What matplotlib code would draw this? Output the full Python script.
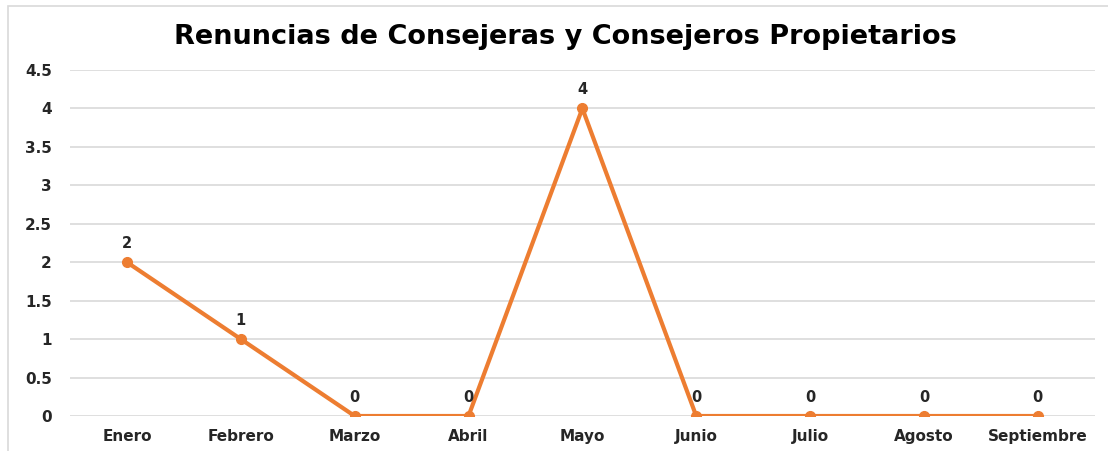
import matplotlib.pyplot as plt
from matplotlib.patches import Rectangle

meses = ['Enero', 'Febrero', 'Marzo', 'Abril', 'Mayo', 'Junio', 'Julio', 'Agosto', 'Septiembre']
renuncias = [2, 1, 0, 0, 4, 0, 0, 0, 0]
yticks = [0, 0.5, 1, 1.5, 2, 2.5, 3, 3.5, 4, 4.5]

plt.rcParams['font.family'] = ['DejaVu Sans']

fig = plt.figure(figsize=(11.08, 4.51), dpi=100)
ax = fig.add_axes([0.0632, 0.0776, 0.9248, 0.7672])

x = list(range(len(meses)))
ax.plot(x, renuncias, color='#ED7D31', linewidth=3, marker='o', markersize=7,
        solid_joinstyle='round', zorder=3)

for xi, v in zip(x, renuncias):
    ax.annotate(str(v), (xi, v), xytext=(0, 8), textcoords='offset points',
                ha='center', va='bottom', fontsize=10.5, fontweight='bold', color='#262626')

ax.set_xlim(-0.5, len(meses) - 0.5)
ax.set_ylim(0, 4.5)
ax.set_yticks(yticks)
ax.set_yticklabels([f'{t:g}' for t in yticks], fontsize=11, fontweight='bold', color='#262626')
ax.set_xticks(x)
ax.set_xticklabels(meses, fontsize=11, fontweight='bold', color='#262626')
ax.tick_params(length=0)
ax.tick_params(axis='y', pad=13)
ax.tick_params(axis='x', pad=9)

ax.grid(axis='y', color='#D9D9D9', linewidth=1.2)
ax.set_axisbelow(True)
for s in ax.spines.values():
    s.set_visible(False)

fig.text(0.51, 0.918, 'Renuncias de Consejeras y Consejeros Propietarios',
         ha='center', va='center', fontsize=19.5, fontweight='bold', color='#000000')

fig.patches.append(Rectangle((8 / 1108, -0.02), 1.1, 1.02 - 6 / 451,
                             transform=fig.transFigure, fill=False,
                             edgecolor='#D9D9D9', linewidth=1.2))

fig.savefig('out.png', dpi=100)
